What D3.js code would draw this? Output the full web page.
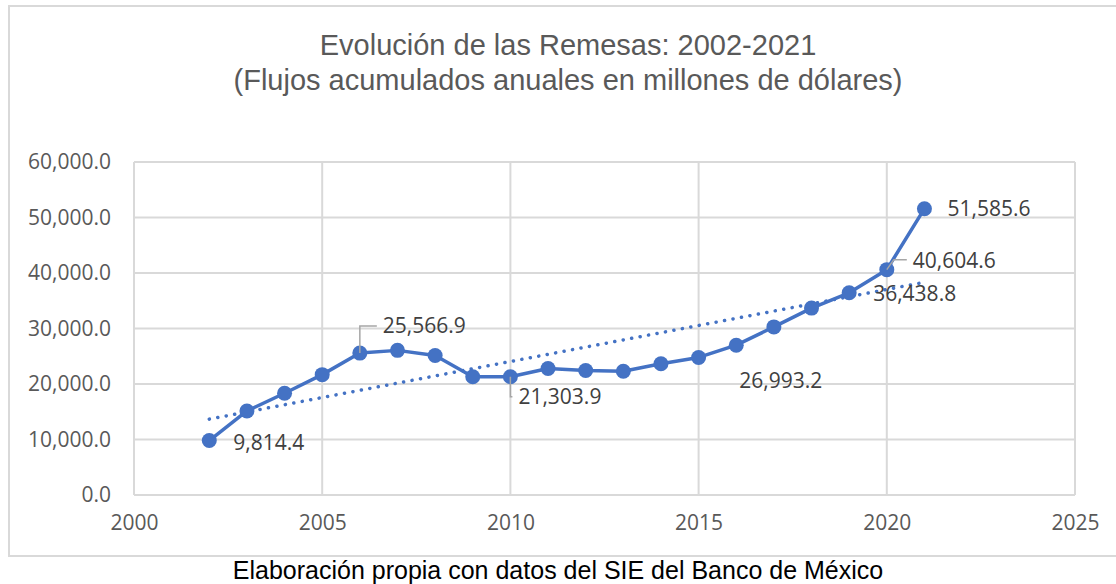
<!DOCTYPE html>
<html>
<head>
<meta charset="utf-8">
<script src="https://cdn.jsdelivr.net/npm/d3@7"></script>
<style>
body{margin:0;background:#fff;}
svg{display:block;}
</style>
</head>
<body>
<svg id="chart" width="1116" height="584"></svg>
<script>
// Remesas anuales (millones de dólares), datos SIE Banxico
var years = [2002,2003,2004,2005,2006,2007,2008,2009,2010,2011,2012,2013,2014,2015,2016,2017,2018,2019,2020,2021];
var remesas = [9814.4,15138.7,18331.7,21688.3,25566.9,26058.8,25137.4,21306.3,21303.9,22803.0,22438.3,22302.8,23647.3,24784.8,26993.2,30290.7,33677.2,36438.8,40604.6,51585.6];
var xTicks = [2000,2005,2010,2015,2020,2025];
var yTicks = [0,10000,20000,30000,40000,50000,60000];
// etiquetas visibles: año, desplazamiento de la etiqueta, tipo de línea guía
var etiquetas = [
	{year:2002, dx:24, dy:2, lead:null},
	{year:2006, dx:23, dy:-27, lead:"v"},
	{year:2010, dx:8, dy:20, lead:"v"},
	{year:2016, dx:3, dy:35, lead:null},
	{year:2019, dx:24, dy:1, lead:null},
	{year:2020, dx:26, dy:-9, lead:"d"},
	{year:2021, dx:23, dy:0, lead:null}
];

var azul = "#4472C4", gris = "#d9d9d9", texto = "#595959";
var svg = d3.select("#chart");

// marco del gráfico
svg.append("rect").attr("x",9).attr("y",6).attr("width",1120).attr("height",550)
	.attr("fill","none").attr("stroke",gris).attr("stroke-width",2);

svg.append("text").attr("x",568).attr("y",55).attr("text-anchor","middle")
	.style("font-family","'Liberation Sans',Arial,sans-serif").style("font-size","29px").attr("fill",texto)
	.text("Evolución de las Remesas: 2002-2021");
svg.append("text").attr("x",568).attr("y",90).attr("text-anchor","middle")
	.style("font-family","'Liberation Sans',Arial,sans-serif").style("font-size","29px").attr("fill",texto)
	.text("(Flujos acumulados anuales en millones de dólares)");

var sx = d3.scaleLinear().domain([2000,2025]).range([134,1075]);
var sy = d3.scaleLinear().domain([0,60000]).range([495,162]);
var fmt = d3.format(",.1f");

var g = svg.append("g");

// rejilla
g.selectAll(".hgrid").data(yTicks).enter().append("line")
	.attr("x1",sx(2000)).attr("x2",sx(2025))
	.attr("y1",function(d){return sy(d)}).attr("y2",function(d){return sy(d)})
	.attr("stroke",gris).attr("stroke-width",2);
g.selectAll(".vgrid").data(xTicks).enter().append("line")
	.attr("y1",sy(0)).attr("y2",sy(60000))
	.attr("x1",function(d){return sx(d)}).attr("x2",function(d){return sx(d)})
	.attr("stroke",gris).attr("stroke-width",2);

var yAxis = d3.axisLeft(sy).tickValues(yTicks).tickSize(0).tickPadding(23).tickFormat(fmt);
var xAxis = d3.axisBottom(sx).tickValues(xTicks).tickSize(0).tickPadding(20).tickFormat(d3.format("d"));

var ya = svg.append("g").attr("transform","translate("+sx(2000)+",0)").call(yAxis);
var xa = svg.append("g").attr("transform","translate(0,"+sy(0)+")").call(xAxis);
[ya,xa].forEach(function(a){
	a.select(".domain").remove();
	a.selectAll("text").style("font-family","'Open Sans','Noto Sans',sans-serif")
		.style("font-size","21px").attr("fill",texto);
});

// tendencia lineal (mínimos cuadrados)
var mx = d3.mean(years), my = d3.mean(remesas);
var num = d3.sum(years,function(y,i){return (y-mx)*(remesas[i]-my)});
var den = d3.sum(years,function(y){return (y-mx)*(y-mx)});
var b = num/den, a0 = my - b*mx;
var x0 = years[0], x1 = years[years.length-1];
g.append("line")
	.attr("x1",sx(x0)).attr("y1",sy(a0+b*x0))
	.attr("x2",sx(x1)).attr("y2",sy(a0+b*x1))
	.attr("stroke",azul).attr("stroke-width",3.5)
	.attr("stroke-dasharray","0.1 8.5").attr("stroke-linecap","round");

var line = d3.line()
	.x(function(d,i){return sx(years[i])})
	.y(function(d){return sy(d)});
g.append("path").datum(remesas).attr("d",line)
	.attr("fill","none").attr("stroke",azul).attr("stroke-width",3.5).attr("stroke-linejoin","round");

g.selectAll(".pt").data(remesas).enter().append("circle")
	.attr("cx",function(d,i){return sx(years[i])})
	.attr("cy",function(d){return sy(d)})
	.attr("r",7.5).attr("fill",azul);

// etiquetas de datos
etiquetas.forEach(function(e){
	var i = years.indexOf(e.year);
	var px = sx(e.year), py = sy(remesas[i]);
	var lx = px + e.dx, ly = py + e.dy;
	if(e.lead == "v"){
		g.append("polyline")
			.attr("points", px+","+py+" "+px+","+ly+" "+(lx-6)+","+ly)
			.attr("fill","none").attr("stroke","#a6a6a6").attr("stroke-width",1.5);
	}
	else if(e.lead == "d"){
		g.append("polyline")
			.attr("points", px+","+py+" "+(px+7)+","+(ly-1)+" "+(lx-6)+","+(ly-1))
			.attr("fill","none").attr("stroke","#a6a6a6").attr("stroke-width",1.5);
	}
	g.append("text").attr("x",lx).attr("y",ly).attr("dy","0.35em")
		.style("font-family","'Open Sans','Noto Sans',sans-serif").style("font-size","21px")
		.attr("fill","#404040").text(fmt(remesas[i]));
});

svg.append("text").attr("x",558).attr("y",579).attr("text-anchor","middle")
	.style("font-family","'Liberation Sans',Arial,sans-serif").style("font-size","25px").attr("fill","#000")
	.text("Elaboración propia con datos del SIE del Banco de México");
</script>
</body>
</html>
